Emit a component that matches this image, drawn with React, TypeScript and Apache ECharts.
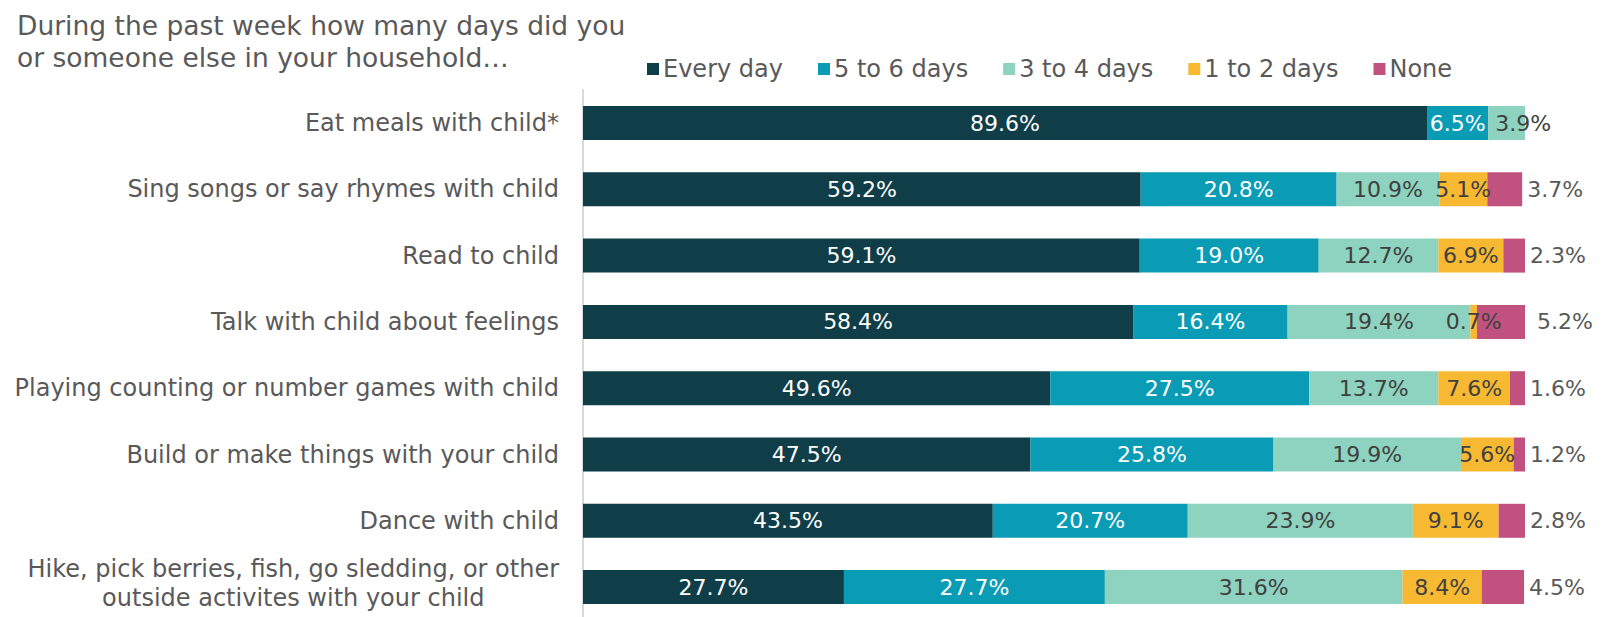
import React, { useEffect, useRef } from "react";
import * as echarts from "echarts";

const titleText = "During the past week how many days did you\nor someone else in your household…";
const seriesNames = ["Every day", "5 to 6 days", "3 to 4 days", "1 to 2 days", "None"];
const categories = [
  "Eat meals with child*",
  "Sing songs or say rhymes with child",
  "Read to child",
  "Talk with child about feelings",
  "Playing counting or number games with child",
  "Build or make things with your child",
  "Dance with child",
  "Hike, pick berries, fish, go sledding, or other\noutside activites with your child",
];
const everyDay = [89.6, 59.2, 59.1, 58.4, 49.6, 47.5, 43.5, 27.7];
const fiveToSix = [6.5, 20.8, 19.0, 16.4, 27.5, 25.8, 20.7, 27.7];
const threeToFour = [3.9, 10.9, 12.7, 19.4, 13.7, 19.9, 23.9, 31.6];
const oneToTwo = [0, 5.1, 6.9, 0.7, 7.6, 5.6, 9.1, 8.4];
const noneDays = [0, 3.7, 2.3, 5.2, 1.6, 1.2, 2.8, 4.5];

const colors = ["#0f3e49", "#0a9bb5", "#8dd3bf", "#f7b932", "#c1527f"];
const labelColors = ["#ffffff", "#ffffff", "#404040", "#404040", "#595959"];
const FONT = "DejaVu Sans";

export default function App() {
  const ref = useRef<HTMLDivElement>(null);
  useEffect(() => {
    if (!ref.current) return;
    const chart = echarts.init(ref.current, null, { renderer: "svg" });
    const allData = [everyDay, fiveToSix, threeToFour, oneToTwo, noneDays];
    const fmt = (p: any) => (p.value > 0 ? p.value.toFixed(1) + "%" : "");
    const series = allData.map((arr, si) => ({
      name: seriesNames[si],
      type: "bar",
      stack: "total",
      barWidth: 34,
      itemStyle: { color: colors[si] },
      label: {
        show: true,
        position: si === 4 ? "right" : "inside",
        distance: 5,
        formatter: fmt,
        color: labelColors[si],
        fontSize: 22,
        fontFamily: FONT,
      },
      data: arr.map((v, i) => {
        if (si === 2 && i === 0) {
          return { value: v, label: { position: "insideLeft", distance: 7 } };
        }
        if (si === 4 && i === 3) {
          return { value: v, label: { distance: 12 } };
        }
        return v;
      }),
    }));
    chart.setOption({
      animation: false,
      textStyle: { fontFamily: FONT },
      title: {
        text: titleText,
        left: 12,
        top: 4,
        textStyle: {
          fontSize: 26.5,
          lineHeight: 32,
          fontWeight: "normal",
          color: "#595959",
          fontFamily: FONT,
        },
      },
      legend: {
        data: seriesNames,
        left: 642,
        top: 52,
        icon: "rect",
        itemWidth: 12,
        itemHeight: 12,
        itemGap: 35,
        textStyle: { fontSize: 24, color: "#595959", fontFamily: FONT, padding: [0, 0, 0, -1] },
      },
      grid: { left: 583, top: 89.85, width: 942, height: 530.4, containLabel: false },
      xAxis: {
        type: "value",
        min: 0,
        max: 100,
        show: false,
        splitLine: { show: false },
      },
      yAxis: {
        type: "category",
        inverse: true,
        data: categories,
        axisLine: { show: true, lineStyle: { color: "#d9d9d9", width: 2 } },
        axisTick: { show: false },
        axisLabel: {
          margin: 24,
          fontSize: 24,
          color: "#595959",
          fontFamily: FONT,
          lineHeight: 31,
          formatter: (v: string) => {
            if (v.indexOf("\n") >= 0) {
              return (
                v
                  .split("\n")
                  .map((s) => "{c|" + s + "}")
                  .join("\n") + "\n{s| }"
              );
            }
            return v;
          },
          rich: {
            c: { align: "center", fontSize: 24, color: "#595959", fontFamily: FONT, lineHeight: 28.5 },
            s: { fontSize: 4, lineHeight: 7 },
          },
        },
      },
      series,
    });
    return () => chart.dispose();
  }, []);
  return (
    <div
      ref={ref}
      style={{ position: "fixed", left: 0, top: 0, width: 1602, height: 640, background: "#ffffff" }}
    />
  );
}
